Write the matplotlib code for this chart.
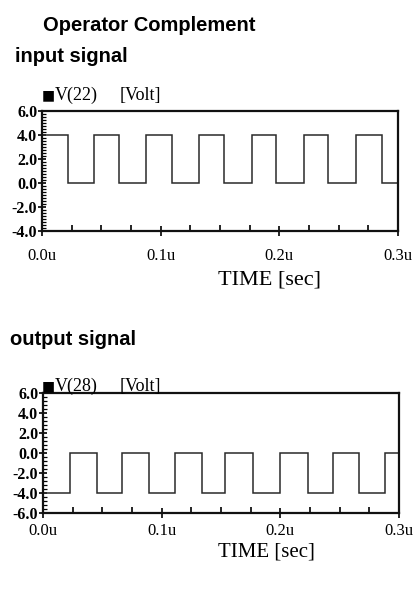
import matplotlib
matplotlib.use("Agg")
import matplotlib.pyplot as plt
from matplotlib.ticker import MultipleLocator, FixedLocator

# ---- data ----
t_in_edges = [0.0217, 0.0437, 0.0653, 0.0876, 0.1096, 0.1319, 0.1534,
              0.1770, 0.1972, 0.2208, 0.2410, 0.2642, 0.2865]
v_in_levels = [4.0, 0.0]          # starts high, alternates
t_out_edges = [0.0228, 0.0455, 0.0666, 0.0893, 0.1112, 0.1340, 0.1534,
               0.1770, 0.1997, 0.2233, 0.2444, 0.2663, 0.2882]
v_out_levels = [-4.0, 0.0]        # starts low, alternates
t_end = 0.3

xtick_vals = [0.0, 0.1, 0.2, 0.3]
xtick_labels = ["0.0u", "0.1u", "0.2u", "0.3u"]
in_yticks = [6.0, 4.0, 2.0, 0.0, -2.0, -4.0]
out_yticks = [6.0, 4.0, 2.0, 0.0, -2.0, -4.0, -6.0]

title = "Operator Complement"
in_title = "input signal"
out_title = "output signal"
in_legend = ("V(22)", "[Volt]")
out_legend = ("V(28)", "[Volt]")
xlabel = "TIME [sec]"


def step_series(edges, levels, tend):
    xs, ys = [0.0], [levels[0]]
    k = 0
    for e in edges:
        xs += [e, e]
        ys += [levels[k % 2], levels[(k + 1) % 2]]
        k += 1
    xs.append(tend)
    ys.append(levels[k % 2])
    return xs, ys


W, H = 413, 593
fig = plt.figure(figsize=(W / 100, H / 100), dpi=100)
fig.patch.set_facecolor("white")

serif = ["Liberation Serif", "DejaVu Serif"]
sans = ["Liberation Sans", "DejaVu Sans"]


def fx(px):
    return px / W


def fy(py):
    return 1 - py / H


def make_axes(left, top, right, bottom, yticks, edges, levels, xpad):
    ax = fig.add_axes([fx(left), fy(bottom), fx(right - left), (bottom - top) / H])
    xs, ys = step_series(edges, levels, t_end)
    ax.plot(xs, ys, color="#2a2a2a", lw=1.1, solid_joinstyle="miter")
    ax.set_xlim(0, t_end)
    ax.set_ylim(min(yticks), max(yticks))
    ax.xaxis.set_major_locator(FixedLocator(xtick_vals))
    ax.set_xticklabels(xtick_labels, fontfamily=serif, fontsize=12)
    ax.xaxis.set_minor_locator(MultipleLocator(0.025))
    ax.yaxis.set_major_locator(FixedLocator(yticks))
    ax.set_yticklabels([f"{v:.1f}" for v in yticks], fontfamily=serif,
                       fontsize=11.5, fontweight="bold")
    ax.yaxis.set_minor_locator(MultipleLocator(0.25 if len(yticks) == 6 else 0.4))
    ax.tick_params(axis="x", which="major", direction="inout", length=7,
                   width=1.2, pad=xpad)
    ax.tick_params(axis="x", which="minor", direction="in", length=4, width=1.2)
    ax.tick_params(axis="y", which="major", direction="inout", length=6,
                   width=1.2, pad=0.5)
    ax.tick_params(axis="y", which="minor", direction="in", length=3, width=0.9)
    for s in ax.spines.values():
        s.set_linewidth(1.6)
        s.set_color("#111111")
    return ax


ax1 = make_axes(42, 111, 398, 231, in_yticks, t_in_edges, v_in_levels, 9)
ax2 = make_axes(43, 393, 399, 513, out_yticks, t_out_edges, v_out_levels, 3.5)

# titles
fig.text(fx(43), fy(31), title, fontfamily=sans, fontweight="bold",
         fontsize=14.5, va="baseline", ha="left")
fig.text(fx(15), fy(62), in_title, fontfamily=sans, fontweight="bold",
         fontsize=14.5, va="baseline", ha="left")
fig.text(fx(10), fy(345), out_title, fontfamily=sans, fontweight="bold",
         fontsize=14.5, va="baseline", ha="left")

# legends
for (lab, unit), yb in ((in_legend, 100), (out_legend, 391)):
    fig.text(fx(42), fy(yb - 1), "\u25A0", fontfamily=["DejaVu Sans"],
             fontsize=10, va="baseline", ha="left")
    fig.text(fx(55), fy(yb), lab, fontfamily=serif, fontsize=13,
             va="baseline", ha="left")
    fig.text(fx(120), fy(yb), unit, fontfamily=serif, fontsize=13,
             va="baseline", ha="left")

# x labels
fig.text(fx(218), fy(284), xlabel, fontfamily=serif, fontsize=16,
         va="baseline", ha="left")
fig.text(fx(218), fy(556), xlabel, fontfamily=serif, fontsize=15,
         va="baseline", ha="left")

fig.savefig("out.png", dpi=100, facecolor="white")
